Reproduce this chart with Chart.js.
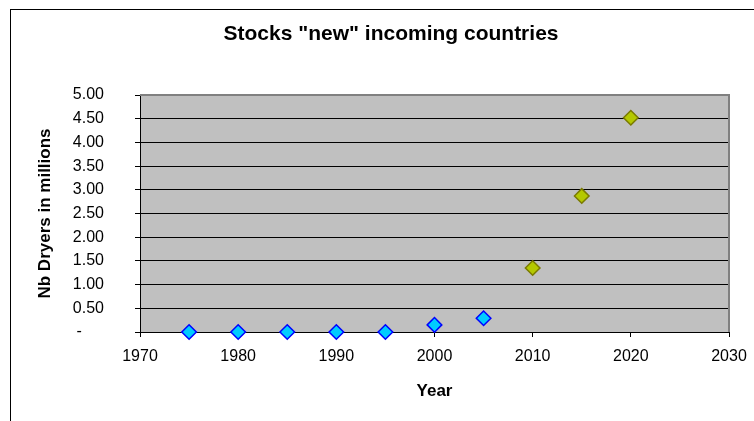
<!DOCTYPE html>
<html>
<head>
<meta charset="utf-8">
<script src="https://cdn.jsdelivr.net/npm/chart.js@4/dist/chart.umd.min.js"></script>
<style>
html,body{margin:0;padding:0;background:#fff;}
canvas{display:block;}
</style>
</head>
<body>
<canvas id="c" width="754" height="421"></canvas>
<script>
const titleText = 'Stocks "new" incoming countries';
const xTitle = 'Year';
const yTitle = 'Nb Dryers in millions';
const pastYears = [1975, 1980, 1985, 1990, 1995, 2000, 2005];
const pastValues = [0, 0, 0, 0, 0, 0.15, 0.29];
const futureYears = [2010, 2015, 2020];
const futureValues = [1.35, 2.87, 4.52];
const xMin = 1970, xMax = 2030, xStep = 10;
const yMin = 0, yMax = 5, yStep = 0.5;

const toPts = (xs, ys) => xs.map((x, i) => ({x: x, y: ys[i]}));

const framePlugin = {
  id: 'frame',
  beforeDraw(chart) {
    const ctx = chart.ctx, a = chart.chartArea;
    ctx.save();
    ctx.fillStyle = '#fff';
    ctx.fillRect(0, 0, chart.width, chart.height);
    ctx.strokeStyle = '#000';
    ctx.lineWidth = 1;
    ctx.strokeRect(10.5, 9.5, 800, 500);
    ctx.fillStyle = '#C0C0C0';
    ctx.fillRect(a.left, a.top, a.right - a.left, a.bottom - a.top);
    ctx.restore();
  },
  beforeDatasetsDraw(chart) {
    const ctx = chart.ctx, a = chart.chartArea;
    ctx.save();
    ctx.strokeStyle = '#808080';
    ctx.lineWidth = 2;
    ctx.beginPath();
    ctx.moveTo(a.left, a.top);
    ctx.lineTo(a.right, a.top);
    ctx.lineTo(a.right, a.bottom);
    ctx.stroke();
    ctx.restore();
  }
};

new Chart(document.getElementById('c'), {
  type: 'scatter',
  data: {
    datasets: [
      {
        data: toPts(pastYears, pastValues),
        pointStyle: 'rectRot',
        pointRadius: 7.3,
        pointBackgroundColor: '#00CCFF',
        pointBorderColor: '#0000FF',
        pointBorderWidth: 1.5,
        clip: false
      },
      {
        data: toPts(futureYears, futureValues),
        pointStyle: 'rectRot',
        pointRadius: 7.3,
        pointBackgroundColor: '#B4C800',
        pointBorderColor: '#7A7A00',
        pointBorderWidth: 1.5,
        clip: false
      }
    ]
  },
  options: {
    responsive: false,
    animation: false,
    layout: {padding: {left: 28, right: 0, top: 0, bottom: 0}},
    plugins: {
      legend: {display: false},
      tooltip: {enabled: false},
      title: {
        display: true,
        text: titleText,
        color: '#000',
        font: {family: '"Liberation Sans", Arial, sans-serif', size: 21, weight: 'bold'},
        padding: {top: 22, bottom: 47.8}
      }
    },
    scales: {
      x: {
        type: 'linear',
        min: xMin, max: xMax,
        afterFit(s) { s.height = 89; s.paddingRight = 25; },
        ticks: {
          stepSize: xStep,
          color: '#000',
          padding: 10,
          maxRotation: 0,
          font: {family: '"Liberation Sans", Arial, sans-serif', size: 16},
          callback: v => String(v)
        },
        grid: {drawOnChartArea: false, drawTicks: true, tickLength: 5, tickColor: '#000'},
        border: {display: true, color: '#000', width: 1},
        title: {
          display: true, text: xTitle, color: '#000',
          font: {family: '"Liberation Sans", Arial, sans-serif', size: 17, weight: 'bold'},
          padding: {top: 0, bottom: 19}
        }
      },
      y: {
        min: yMin, max: yMax,
        afterFit(s) { s.width = 112; },
        ticks: {
          stepSize: yStep,
          color: '#000',
          padding: 31,
          font: {family: '"Liberation Sans", Arial, sans-serif', size: 16},
          callback: v => v === 0 ? '-     ' : Number(v).toFixed(2)
        },
        grid: {
          drawOnChartArea: true, drawTicks: true, tickLength: 5,
          color: ctx => (ctx.tick && ctx.tick.value === yMax) ? 'rgba(0,0,0,0)' : '#000',
          tickColor: '#000', lineWidth: 1
        },
        border: {display: true, color: '#000', width: 1},
        title: {
          display: true, text: yTitle, color: '#000',
          font: {family: '"Liberation Sans", Arial, sans-serif', size: 17, weight: 'bold'},
          padding: {top: 7, bottom: 0}
        }
      }
    }
  },
  plugins: [framePlugin]
});
</script>
</body>
</html>
